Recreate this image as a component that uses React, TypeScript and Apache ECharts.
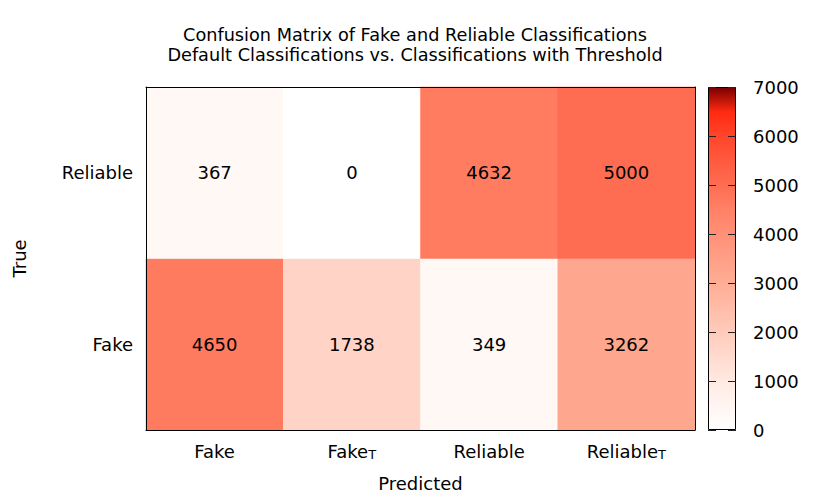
import React, { useEffect, useRef } from "react";
import * as echarts from "echarts";

const titleLines = [
  "Confusion Matrix of Fake and Reliable Classifications",
  "Default Classifications vs. Classifications with Threshold",
];
const xCategories = ["Fake", "Fake_T", "Reliable", "Reliable_T"];
const yCategories = ["Fake", "Reliable"];
const rowFake = [4650, 1738, 349, 3262];
const rowReliable = [367, 0, 4632, 5000];
const colorbarTicks = [0, 1000, 2000, 3000, 4000, 5000, 6000, 7000];
const paletteColors = [
  "#ffffff", "#fff5f1", "#ffe9e2", "#ffdace", "#ffcbbb", "#ffbca8", "#ffad96",
  "#ff9f86", "#ff9077", "#ff8166", "#fe6d52", "#ff5a3f", "#ff452b", "#ff2a10", "#7a0000",
];

const FONT = "DejaVu Sans";
const FS = 18;

export default function App() {
  const ref = useRef<HTMLDivElement>(null);
  useEffect(() => {
    if (!ref.current) return;
    const chart = echarts.init(ref.current, undefined, { renderer: "svg" });
    const data: number[][] = [];
    rowFake.forEach((v, i) => data.push([i, 0, v]));
    rowReliable.forEach((v, i) => data.push([i, 1, v]));
    const vmin = colorbarTicks[0];
    const vmax = colorbarTicks[colorbarTicks.length - 1];
    const stops = paletteColors
      .map((c, i) => ({ offset: 1 - i / (paletteColors.length - 1), color: c }))
      .reverse();
    const fmtCat = (v: string) =>
      v.endsWith("_T") ? `{n|${v.slice(0, -2)}}{s|T}` : `{n|${v}}`;
    const rich = {
      n: { fontSize: FS, fontFamily: FONT, color: "#000", lineHeight: 19 },
      s: { fontSize: 13, fontFamily: FONT, color: "#000", lineHeight: 7, verticalAlign: "bottom" },
    };
    chart.setOption({
      animation: false,
      title: {
        text: titleLines.join("\n"),
        left: "center",
        top: 20,
        textStyle: { fontFamily: FONT, fontSize: 17.7, fontWeight: "normal", color: "#000", lineHeight: 20 },
      },
      grid: [
        { left: 146, top: 87, width: 549, height: 343 },
        { left: 708, top: 87, width: 28, height: 343 },
      ],
      xAxis: [
        {
          type: "category",
          gridIndex: 0,
          data: xCategories,
          position: "bottom",
          z: 10,
          axisLine: { show: true, lineStyle: { color: "#000", width: 1 } },
          axisTick: { show: false },
          axisLabel: { margin: 12, formatter: fmtCat, rich },
          name: "Predicted",
          nameLocation: "middle",
          nameGap: 44,
          nameTextStyle: { fontFamily: FONT, fontSize: FS, color: "#000" },
          splitLine: { show: false },
        },
        {
          type: "category",
          gridIndex: 0,
          data: xCategories,
          position: "top",
          z: 10,
          axisLine: { show: true, lineStyle: { color: "#000", width: 1 } },
          axisTick: { show: false },
          axisLabel: { show: false },
          splitLine: { show: false },
        },
        {
          type: "category",
          gridIndex: 1,
          data: ["bar"],
          show: false,
        },
      ],
      yAxis: [
        {
          type: "category",
          gridIndex: 0,
          data: yCategories,
          position: "left",
          z: 10,
          axisLine: { show: true, lineStyle: { color: "#000", width: 1 } },
          axisTick: { show: false },
          axisLabel: { margin: 13, fontFamily: FONT, fontSize: FS, color: "#000" },
          name: "True",
          nameLocation: "middle",
          nameGap: 118,
          nameTextStyle: { fontFamily: FONT, fontSize: FS, color: "#000" },
          splitLine: { show: false },
        },
        {
          type: "category",
          gridIndex: 0,
          data: yCategories,
          position: "right",
          z: 10,
          axisLine: { show: true, lineStyle: { color: "#000", width: 1 } },
          axisTick: { show: false },
          axisLabel: { show: false },
          splitLine: { show: false },
        },
        {
          type: "value",
          gridIndex: 1,
          min: vmin,
          max: vmax,
          interval: 1000,
          position: "right",
          z: 10,
          axisLine: { show: false },
          axisTick: { show: true, inside: true, length: 8, lineStyle: { color: "#222", width: 1 } },
          axisLabel: { margin: 17, fontFamily: FONT, fontSize: FS, color: "#000", formatter: (v: number) => String(v) },
          splitLine: { show: false },
        },
        {
          type: "value",
          gridIndex: 1,
          min: vmin,
          max: vmax,
          interval: 1000,
          position: "left",
          z: 10,
          axisLine: { show: false },
          axisTick: { show: true, inside: true, length: 8, lineStyle: { color: "#222", width: 1 } },
          axisLabel: { show: false },
          splitLine: { show: false },
        },
      ],
      visualMap: {
        show: false,
        min: vmin,
        max: vmax,
        seriesIndex: 0,
        dimension: 2,
        inRange: { color: paletteColors },
      },
      series: [
        {
          type: "heatmap",
          xAxisIndex: 0,
          yAxisIndex: 0,
          data,
          label: { show: true, fontFamily: FONT, fontSize: FS, color: "#000" },
          itemStyle: { borderWidth: 0 },
        },
        {
          type: "bar",
          xAxisIndex: 2,
          yAxisIndex: 2,
          data: [vmax],
          barWidth: "100%",
          silent: true,
          itemStyle: {
            borderColor: "#000",
            borderWidth: 1,
            color: new echarts.graphic.LinearGradient(0, 0, 0, 1, stops),
          },
        },
      ],
    });
    return () => chart.dispose();
  }, []);
  return (
    <div
      ref={ref}
      style={{ position: "fixed", left: 0, top: 0, width: 830, height: 498, background: "#fff" }}
    />
  );
}
